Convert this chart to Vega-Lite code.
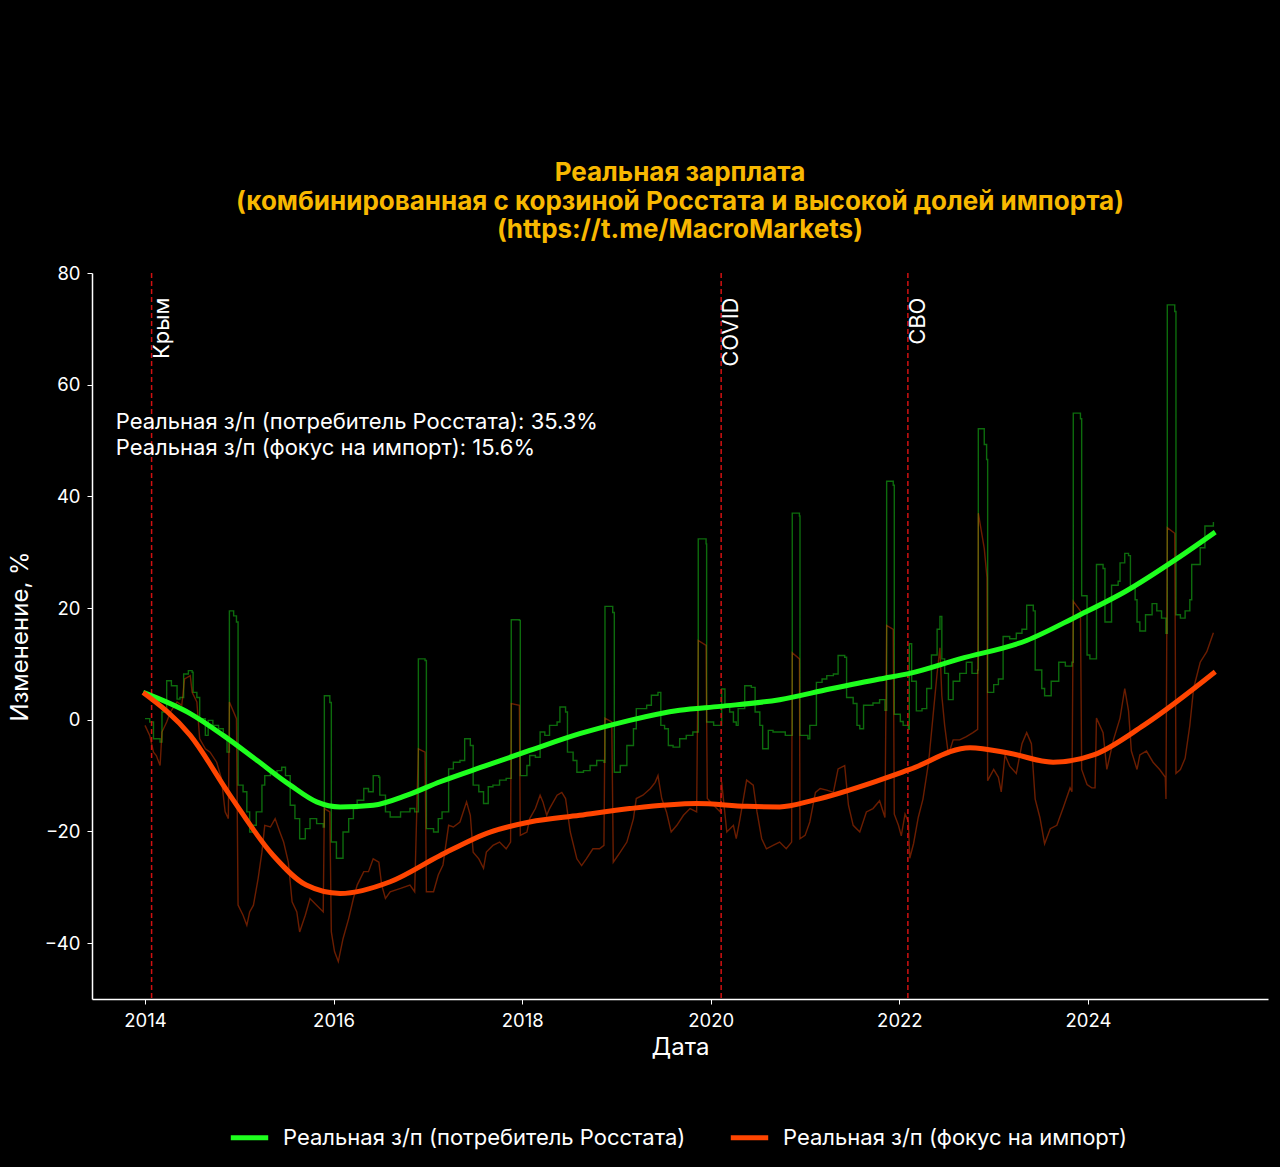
{
  "$schema": "https://vega.github.io/schema/vega-lite/v6.json",
  "width": 1176,
  "height": 726,
  "autosize": {"type": "none"},
  "padding": {"left": 92, "top": 273, "right": 12, "bottom": 168},
  "background": "#000000",
  "title": {
    "text": ["Реальная зарплата", "(комбинированная с корзиной Росстата и высокой долей импорта)", "(https://t.me/MacroMarkets)"],
    "color": "#F8B800",
    "font": "Inter",
    "fontSize": 26,
    "fontWeight": "bold",
    "lineHeight": 28.5,
    "anchor": "middle",
    "offset": 21
  },
  "datasets": {
    "raw": [
      {"year": 2014.00, "value": 0.2, "series": "cpi"}, {"year": 2014.05, "value": -0.4, "series": "cpi"}, {"year": 2014.09, "value": -3.4, "series": "cpi"}, {"year": 2014.16, "value": -4.0, "series": "cpi"}, {"year": 2014.18, "value": 1.4, "series": "cpi"}, {"year": 2014.23, "value": 7.0, "series": "cpi"}, {"year": 2014.28, "value": 6.1, "series": "cpi"}, {"year": 2014.34, "value": 3.7, "series": "cpi"}, {"year": 2014.37, "value": 4.0, "series": "cpi"}, {"year": 2014.41, "value": 8.2, "series": "cpi"}, {"year": 2014.46, "value": 8.8, "series": "cpi"}, {"year": 2014.50, "value": 8.5, "series": "cpi"}, {"year": 2014.51, "value": 4.9, "series": "cpi"}, {"year": 2014.55, "value": 4.0, "series": "cpi"}, {"year": 2014.58, "value": 0.2, "series": "cpi"}, {"year": 2014.64, "value": -2.8, "series": "cpi"}, {"year": 2014.67, "value": -0.1, "series": "cpi"}, {"year": 2014.72, "value": -1.0, "series": "cpi"}, {"year": 2014.78, "value": -1.6, "series": "cpi"}, {"year": 2014.83, "value": -3.1, "series": "cpi"}, {"year": 2014.87, "value": -5.8, "series": "cpi"}, {"year": 2014.895, "value": 19.5, "series": "cpi"}, {"year": 2014.94, "value": 18.6, "series": "cpi"}, {"year": 2014.97, "value": 17.5, "series": "cpi"}, {"year": 2014.987, "value": -11.7, "series": "cpi"}, {"year": 2015.04, "value": -12.9, "series": "cpi"}, {"year": 2015.08, "value": -16.5, "series": "cpi"}, {"year": 2015.11, "value": -20.1, "series": "cpi"}, {"year": 2015.15, "value": -18.9, "series": "cpi"}, {"year": 2015.18, "value": -16.5, "series": "cpi"}, {"year": 2015.24, "value": -11.7, "series": "cpi"}, {"year": 2015.27, "value": -10.0, "series": "cpi"}, {"year": 2015.33, "value": -9.4, "series": "cpi"}, {"year": 2015.40, "value": -9.1, "series": "cpi"}, {"year": 2015.45, "value": -8.5, "series": "cpi"}, {"year": 2015.49, "value": -10.0, "series": "cpi"}, {"year": 2015.54, "value": -15.3, "series": "cpi"}, {"year": 2015.59, "value": -17.7, "series": "cpi"}, {"year": 2015.64, "value": -21.3, "series": "cpi"}, {"year": 2015.70, "value": -19.5, "series": "cpi"}, {"year": 2015.75, "value": -17.7, "series": "cpi"}, {"year": 2015.82, "value": -18.6, "series": "cpi"}, {"year": 2015.89, "value": -19.2, "series": "cpi"}, {"year": 2015.902, "value": 4.3, "series": "cpi"}, {"year": 2015.96, "value": 3.1, "series": "cpi"}, {"year": 2015.976, "value": -21.9, "series": "cpi"}, {"year": 2016.03, "value": -24.8, "series": "cpi"}, {"year": 2016.10, "value": -20.1, "series": "cpi"}, {"year": 2016.16, "value": -17.7, "series": "cpi"}, {"year": 2016.21, "value": -15.9, "series": "cpi"}, {"year": 2016.25, "value": -14.4, "series": "cpi"}, {"year": 2016.32, "value": -12.3, "series": "cpi"}, {"year": 2016.37, "value": -12.9, "series": "cpi"}, {"year": 2016.42, "value": -10.0, "series": "cpi"}, {"year": 2016.48, "value": -10.3, "series": "cpi"}, {"year": 2016.49, "value": -13.5, "series": "cpi"}, {"year": 2016.55, "value": -16.5, "series": "cpi"}, {"year": 2016.60, "value": -17.4, "series": "cpi"}, {"year": 2016.71, "value": -16.5, "series": "cpi"}, {"year": 2016.81, "value": -15.9, "series": "cpi"}, {"year": 2016.86, "value": -16.5, "series": "cpi"}, {"year": 2016.899, "value": 10.9, "series": "cpi"}, {"year": 2016.97, "value": 10.6, "series": "cpi"}, {"year": 2016.984, "value": -19.5, "series": "cpi"}, {"year": 2017.06, "value": -20.1, "series": "cpi"}, {"year": 2017.11, "value": -17.7, "series": "cpi"}, {"year": 2017.15, "value": -16.5, "series": "cpi"}, {"year": 2017.22, "value": -8.8, "series": "cpi"}, {"year": 2017.27, "value": -7.6, "series": "cpi"}, {"year": 2017.34, "value": -7.3, "series": "cpi"}, {"year": 2017.39, "value": -3.4, "series": "cpi"}, {"year": 2017.45, "value": -4.6, "series": "cpi"}, {"year": 2017.48, "value": -11.7, "series": "cpi"}, {"year": 2017.54, "value": -12.9, "series": "cpi"}, {"year": 2017.59, "value": -15.0, "series": "cpi"}, {"year": 2017.64, "value": -12.0, "series": "cpi"}, {"year": 2017.69, "value": -11.7, "series": "cpi"}, {"year": 2017.76, "value": -10.8, "series": "cpi"}, {"year": 2017.83, "value": -10.5, "series": "cpi"}, {"year": 2017.884, "value": 17.9, "series": "cpi"}, {"year": 2017.97, "value": 17.8, "series": "cpi"}, {"year": 2017.98, "value": -10.0, "series": "cpi"}, {"year": 2018.05, "value": -8.2, "series": "cpi"}, {"year": 2018.08, "value": -6.4, "series": "cpi"}, {"year": 2018.14, "value": -6.7, "series": "cpi"}, {"year": 2018.19, "value": -2.2, "series": "cpi"}, {"year": 2018.24, "value": -2.8, "series": "cpi"}, {"year": 2018.29, "value": -1.0, "series": "cpi"}, {"year": 2018.37, "value": -0.4, "series": "cpi"}, {"year": 2018.40, "value": 2.3, "series": "cpi"}, {"year": 2018.46, "value": 1.4, "series": "cpi"}, {"year": 2018.48, "value": -5.8, "series": "cpi"}, {"year": 2018.54, "value": -7.3, "series": "cpi"}, {"year": 2018.58, "value": -9.4, "series": "cpi"}, {"year": 2018.65, "value": -9.1, "series": "cpi"}, {"year": 2018.72, "value": -8.2, "series": "cpi"}, {"year": 2018.79, "value": -7.3, "series": "cpi"}, {"year": 2018.867, "value": -7.6, "series": "cpi"}, {"year": 2018.878, "value": 20.3, "series": "cpi"}, {"year": 2018.96, "value": 19.2, "series": "cpi"}, {"year": 2018.977, "value": -9.4, "series": "cpi"}, {"year": 2019.04, "value": -8.2, "series": "cpi"}, {"year": 2019.11, "value": -4.6, "series": "cpi"}, {"year": 2019.18, "value": -1.6, "series": "cpi"}, {"year": 2019.21, "value": 2.0, "series": "cpi"}, {"year": 2019.28, "value": 2.0, "series": "cpi"}, {"year": 2019.32, "value": 2.6, "series": "cpi"}, {"year": 2019.37, "value": 4.4, "series": "cpi"}, {"year": 2019.44, "value": 4.9, "series": "cpi"}, {"year": 2019.47, "value": -1.0, "series": "cpi"}, {"year": 2019.51, "value": -1.6, "series": "cpi"}, {"year": 2019.55, "value": -4.6, "series": "cpi"}, {"year": 2019.60, "value": -4.9, "series": "cpi"}, {"year": 2019.67, "value": -3.4, "series": "cpi"}, {"year": 2019.74, "value": -2.8, "series": "cpi"}, {"year": 2019.81, "value": -2.2, "series": "cpi"}, {"year": 2019.86, "value": -2.2, "series": "cpi"}, {"year": 2019.867, "value": 32.4, "series": "cpi"}, {"year": 2019.95, "value": 31.5, "series": "cpi"}, {"year": 2019.956, "value": -0.4, "series": "cpi"}, {"year": 2020.03, "value": -1.0, "series": "cpi"}, {"year": 2020.10, "value": -1.0, "series": "cpi"}, {"year": 2020.115, "value": 5.5, "series": "cpi"}, {"year": 2020.15, "value": 2.6, "series": "cpi"}, {"year": 2020.20, "value": 1.4, "series": "cpi"}, {"year": 2020.24, "value": -0.4, "series": "cpi"}, {"year": 2020.27, "value": -1.0, "series": "cpi"}, {"year": 2020.29, "value": 2.0, "series": "cpi"}, {"year": 2020.36, "value": 6.1, "series": "cpi"}, {"year": 2020.43, "value": 5.8, "series": "cpi"}, {"year": 2020.47, "value": 1.4, "series": "cpi"}, {"year": 2020.52, "value": -1.0, "series": "cpi"}, {"year": 2020.55, "value": -5.2, "series": "cpi"}, {"year": 2020.61, "value": -1.9, "series": "cpi"}, {"year": 2020.66, "value": -2.2, "series": "cpi"}, {"year": 2020.73, "value": -2.2, "series": "cpi"}, {"year": 2020.79, "value": -2.8, "series": "cpi"}, {"year": 2020.857, "value": -2.8, "series": "cpi"}, {"year": 2020.864, "value": 37.0, "series": "cpi"}, {"year": 2020.94, "value": 36.5, "series": "cpi"}, {"year": 2020.946, "value": -2.8, "series": "cpi"}, {"year": 2021.03, "value": -3.4, "series": "cpi"}, {"year": 2021.05, "value": -1.0, "series": "cpi"}, {"year": 2021.12, "value": 6.7, "series": "cpi"}, {"year": 2021.18, "value": 7.3, "series": "cpi"}, {"year": 2021.23, "value": 7.9, "series": "cpi"}, {"year": 2021.30, "value": 8.2, "series": "cpi"}, {"year": 2021.35, "value": 11.5, "series": "cpi"}, {"year": 2021.42, "value": 11.2, "series": "cpi"}, {"year": 2021.44, "value": 4.0, "series": "cpi"}, {"year": 2021.51, "value": 2.9, "series": "cpi"}, {"year": 2021.55, "value": -1.0, "series": "cpi"}, {"year": 2021.58, "value": -1.6, "series": "cpi"}, {"year": 2021.62, "value": 2.6, "series": "cpi"}, {"year": 2021.72, "value": 3.0, "series": "cpi"}, {"year": 2021.79, "value": 3.6, "series": "cpi"}, {"year": 2021.847, "value": 1.7, "series": "cpi"}, {"year": 2021.865, "value": 42.7, "series": "cpi"}, {"year": 2021.935, "value": 42.0, "series": "cpi"}, {"year": 2021.946, "value": 1.0, "series": "cpi"}, {"year": 2022.01, "value": -0.3, "series": "cpi"}, {"year": 2022.04, "value": -1.0, "series": "cpi"}, {"year": 2022.095, "value": -1.7, "series": "cpi"}, {"year": 2022.105, "value": 13.6, "series": "cpi"}, {"year": 2022.13, "value": 6.9, "series": "cpi"}, {"year": 2022.18, "value": 1.6, "series": "cpi"}, {"year": 2022.24, "value": 2.0, "series": "cpi"}, {"year": 2022.29, "value": 5.6, "series": "cpi"}, {"year": 2022.34, "value": 11.6, "series": "cpi"}, {"year": 2022.40, "value": 16.2, "series": "cpi"}, {"year": 2022.43, "value": 18.5, "series": "cpi"}, {"year": 2022.45, "value": 10.9, "series": "cpi"}, {"year": 2022.48, "value": 8.3, "series": "cpi"}, {"year": 2022.52, "value": 3.6, "series": "cpi"}, {"year": 2022.57, "value": 6.9, "series": "cpi"}, {"year": 2022.64, "value": 8.3, "series": "cpi"}, {"year": 2022.71, "value": 10.3, "series": "cpi"}, {"year": 2022.77, "value": 8.3, "series": "cpi"}, {"year": 2022.83, "value": 8.9, "series": "cpi"}, {"year": 2022.837, "value": 52.1, "series": "cpi"}, {"year": 2022.90, "value": 49.3, "series": "cpi"}, {"year": 2022.925, "value": 46.6, "series": "cpi"}, {"year": 2022.936, "value": 4.9, "series": "cpi"}, {"year": 2023.00, "value": 6.3, "series": "cpi"}, {"year": 2023.05, "value": 7.3, "series": "cpi"}, {"year": 2023.10, "value": 14.9, "series": "cpi"}, {"year": 2023.17, "value": 14.5, "series": "cpi"}, {"year": 2023.24, "value": 15.5, "series": "cpi"}, {"year": 2023.30, "value": 16.2, "series": "cpi"}, {"year": 2023.35, "value": 20.5, "series": "cpi"}, {"year": 2023.42, "value": 19.5, "series": "cpi"}, {"year": 2023.44, "value": 8.9, "series": "cpi"}, {"year": 2023.51, "value": 5.6, "series": "cpi"}, {"year": 2023.54, "value": 4.3, "series": "cpi"}, {"year": 2023.61, "value": 6.9, "series": "cpi"}, {"year": 2023.69, "value": 10.3, "series": "cpi"}, {"year": 2023.76, "value": 9.6, "series": "cpi"}, {"year": 2023.83, "value": 10.3, "series": "cpi"}, {"year": 2023.844, "value": 54.9, "series": "cpi"}, {"year": 2023.92, "value": 53.9, "series": "cpi"}, {"year": 2023.933, "value": 22.2, "series": "cpi"}, {"year": 2023.99, "value": 11.6, "series": "cpi"}, {"year": 2024.02, "value": 10.9, "series": "cpi"}, {"year": 2024.075, "value": 10.9, "series": "cpi"}, {"year": 2024.09, "value": 27.8, "series": "cpi"}, {"year": 2024.16, "value": 27.1, "series": "cpi"}, {"year": 2024.18, "value": 17.5, "series": "cpi"}, {"year": 2024.25, "value": 24.1, "series": "cpi"}, {"year": 2024.32, "value": 24.8, "series": "cpi"}, {"year": 2024.34, "value": 28.1, "series": "cpi"}, {"year": 2024.39, "value": 29.8, "series": "cpi"}, {"year": 2024.43, "value": 29.4, "series": "cpi"}, {"year": 2024.45, "value": 23.5, "series": "cpi"}, {"year": 2024.50, "value": 21.5, "series": "cpi"}, {"year": 2024.52, "value": 17.5, "series": "cpi"}, {"year": 2024.55, "value": 15.9, "series": "cpi"}, {"year": 2024.61, "value": 18.8, "series": "cpi"}, {"year": 2024.68, "value": 20.8, "series": "cpi"}, {"year": 2024.73, "value": 19.5, "series": "cpi"}, {"year": 2024.78, "value": 18.2, "series": "cpi"}, {"year": 2024.827, "value": 15.5, "series": "cpi"}, {"year": 2024.841, "value": 74.3, "series": "cpi"}, {"year": 2024.92, "value": 73.1, "series": "cpi"}, {"year": 2024.933, "value": 18.8, "series": "cpi"}, {"year": 2024.98, "value": 18.2, "series": "cpi"}, {"year": 2025.03, "value": 19.5, "series": "cpi"}, {"year": 2025.08, "value": 21.5, "series": "cpi"}, {"year": 2025.10, "value": 27.8, "series": "cpi"}, {"year": 2025.19, "value": 30.8, "series": "cpi"}, {"year": 2025.24, "value": 34.7, "series": "cpi"}, {"year": 2025.33, "value": 35.4, "series": "cpi"},
      {"year": 2014.00, "value": -1.0, "series": "imp"}, {"year": 2014.05, "value": -2.8, "series": "imp"}, {"year": 2014.09, "value": -5.8, "series": "imp"}, {"year": 2014.12, "value": -6.4, "series": "imp"}, {"year": 2014.16, "value": -8.2, "series": "imp"}, {"year": 2014.18, "value": -2.2, "series": "imp"}, {"year": 2014.23, "value": -0.4, "series": "imp"}, {"year": 2014.27, "value": 1.4, "series": "imp"}, {"year": 2014.34, "value": 3.2, "series": "imp"}, {"year": 2014.39, "value": 2.6, "series": "imp"}, {"year": 2014.42, "value": 7.3, "series": "imp"}, {"year": 2014.48, "value": 7.9, "series": "imp"}, {"year": 2014.50, "value": 4.9, "series": "imp"}, {"year": 2014.55, "value": 3.2, "series": "imp"}, {"year": 2014.58, "value": -3.4, "series": "imp"}, {"year": 2014.64, "value": -5.2, "series": "imp"}, {"year": 2014.69, "value": -5.8, "series": "imp"}, {"year": 2014.76, "value": -7.6, "series": "imp"}, {"year": 2014.81, "value": -10.5, "series": "imp"}, {"year": 2014.85, "value": -16.5, "series": "imp"}, {"year": 2014.884, "value": -17.7, "series": "imp"}, {"year": 2014.895, "value": 3.2, "series": "imp"}, {"year": 2014.97, "value": 0.2, "series": "imp"}, {"year": 2014.987, "value": -33.2, "series": "imp"}, {"year": 2015.04, "value": -35.0, "series": "imp"}, {"year": 2015.08, "value": -36.8, "series": "imp"}, {"year": 2015.11, "value": -34.4, "series": "imp"}, {"year": 2015.15, "value": -33.2, "series": "imp"}, {"year": 2015.20, "value": -28.4, "series": "imp"}, {"year": 2015.24, "value": -23.7, "series": "imp"}, {"year": 2015.27, "value": -18.9, "series": "imp"}, {"year": 2015.33, "value": -19.2, "series": "imp"}, {"year": 2015.38, "value": -17.7, "series": "imp"}, {"year": 2015.43, "value": -20.1, "series": "imp"}, {"year": 2015.47, "value": -21.9, "series": "imp"}, {"year": 2015.52, "value": -25.5, "series": "imp"}, {"year": 2015.56, "value": -32.6, "series": "imp"}, {"year": 2015.61, "value": -34.4, "series": "imp"}, {"year": 2015.64, "value": -38.0, "series": "imp"}, {"year": 2015.70, "value": -35.0, "series": "imp"}, {"year": 2015.75, "value": -32.0, "series": "imp"}, {"year": 2015.82, "value": -33.2, "series": "imp"}, {"year": 2015.89, "value": -34.4, "series": "imp"}, {"year": 2015.902, "value": -15.9, "series": "imp"}, {"year": 2015.96, "value": -16.5, "series": "imp"}, {"year": 2015.976, "value": -38.0, "series": "imp"}, {"year": 2016.01, "value": -41.5, "series": "imp"}, {"year": 2016.05, "value": -43.3, "series": "imp"}, {"year": 2016.10, "value": -39.2, "series": "imp"}, {"year": 2016.16, "value": -35.6, "series": "imp"}, {"year": 2016.21, "value": -32.0, "series": "imp"}, {"year": 2016.25, "value": -29.6, "series": "imp"}, {"year": 2016.32, "value": -27.2, "series": "imp"}, {"year": 2016.37, "value": -27.2, "series": "imp"}, {"year": 2016.42, "value": -24.9, "series": "imp"}, {"year": 2016.48, "value": -25.5, "series": "imp"}, {"year": 2016.51, "value": -29.6, "series": "imp"}, {"year": 2016.55, "value": -32.0, "series": "imp"}, {"year": 2016.60, "value": -30.8, "series": "imp"}, {"year": 2016.71, "value": -30.2, "series": "imp"}, {"year": 2016.81, "value": -29.6, "series": "imp"}, {"year": 2016.86, "value": -30.8, "series": "imp"}, {"year": 2016.899, "value": -5.2, "series": "imp"}, {"year": 2016.97, "value": -5.8, "series": "imp"}, {"year": 2016.984, "value": -30.8, "series": "imp"}, {"year": 2017.06, "value": -30.8, "series": "imp"}, {"year": 2017.11, "value": -27.8, "series": "imp"}, {"year": 2017.16, "value": -26.0, "series": "imp"}, {"year": 2017.22, "value": -18.9, "series": "imp"}, {"year": 2017.27, "value": -19.2, "series": "imp"}, {"year": 2017.34, "value": -18.3, "series": "imp"}, {"year": 2017.41, "value": -14.7, "series": "imp"}, {"year": 2017.45, "value": -17.1, "series": "imp"}, {"year": 2017.48, "value": -23.7, "series": "imp"}, {"year": 2017.54, "value": -24.9, "series": "imp"}, {"year": 2017.59, "value": -26.6, "series": "imp"}, {"year": 2017.62, "value": -23.7, "series": "imp"}, {"year": 2017.69, "value": -22.5, "series": "imp"}, {"year": 2017.76, "value": -21.9, "series": "imp"}, {"year": 2017.83, "value": -23.1, "series": "imp"}, {"year": 2017.877, "value": -21.9, "series": "imp"}, {"year": 2017.884, "value": 2.9, "series": "imp"}, {"year": 2017.97, "value": 2.6, "series": "imp"}, {"year": 2017.98, "value": -20.7, "series": "imp"}, {"year": 2018.05, "value": -20.1, "series": "imp"}, {"year": 2018.08, "value": -17.7, "series": "imp"}, {"year": 2018.14, "value": -15.9, "series": "imp"}, {"year": 2018.19, "value": -13.5, "series": "imp"}, {"year": 2018.22, "value": -14.7, "series": "imp"}, {"year": 2018.26, "value": -17.1, "series": "imp"}, {"year": 2018.29, "value": -15.9, "series": "imp"}, {"year": 2018.37, "value": -13.5, "series": "imp"}, {"year": 2018.42, "value": -13.0, "series": "imp"}, {"year": 2018.46, "value": -14.1, "series": "imp"}, {"year": 2018.51, "value": -20.1, "series": "imp"}, {"year": 2018.58, "value": -24.9, "series": "imp"}, {"year": 2018.63, "value": -26.1, "series": "imp"}, {"year": 2018.68, "value": -24.9, "series": "imp"}, {"year": 2018.75, "value": -23.1, "series": "imp"}, {"year": 2018.82, "value": -23.1, "series": "imp"}, {"year": 2018.867, "value": -22.5, "series": "imp"}, {"year": 2018.878, "value": 0.3, "series": "imp"}, {"year": 2018.95, "value": -0.4, "series": "imp"}, {"year": 2018.966, "value": -25.5, "series": "imp"}, {"year": 2019.04, "value": -23.7, "series": "imp"}, {"year": 2019.11, "value": -21.9, "series": "imp"}, {"year": 2019.18, "value": -17.7, "series": "imp"}, {"year": 2019.21, "value": -14.1, "series": "imp"}, {"year": 2019.28, "value": -13.5, "series": "imp"}, {"year": 2019.36, "value": -12.3, "series": "imp"}, {"year": 2019.41, "value": -11.2, "series": "imp"}, {"year": 2019.44, "value": -10.0, "series": "imp"}, {"year": 2019.48, "value": -14.1, "series": "imp"}, {"year": 2019.53, "value": -16.5, "series": "imp"}, {"year": 2019.58, "value": -20.1, "series": "imp"}, {"year": 2019.64, "value": -18.9, "series": "imp"}, {"year": 2019.71, "value": -17.1, "series": "imp"}, {"year": 2019.78, "value": -15.9, "series": "imp"}, {"year": 2019.85, "value": -16.5, "series": "imp"}, {"year": 2019.867, "value": 14.2, "series": "imp"}, {"year": 2019.95, "value": 13.3, "series": "imp"}, {"year": 2019.963, "value": -14.1, "series": "imp"}, {"year": 2020.03, "value": -15.3, "series": "imp"}, {"year": 2020.10, "value": -16.5, "series": "imp"}, {"year": 2020.115, "value": -11.1, "series": "imp"}, {"year": 2020.17, "value": -20.1, "series": "imp"}, {"year": 2020.24, "value": -18.9, "series": "imp"}, {"year": 2020.27, "value": -21.3, "series": "imp"}, {"year": 2020.31, "value": -17.7, "series": "imp"}, {"year": 2020.38, "value": -10.8, "series": "imp"}, {"year": 2020.45, "value": -11.7, "series": "imp"}, {"year": 2020.49, "value": -16.5, "series": "imp"}, {"year": 2020.54, "value": -21.3, "series": "imp"}, {"year": 2020.59, "value": -23.1, "series": "imp"}, {"year": 2020.66, "value": -22.5, "series": "imp"}, {"year": 2020.73, "value": -21.9, "series": "imp"}, {"year": 2020.80, "value": -23.1, "series": "imp"}, {"year": 2020.857, "value": -21.9, "series": "imp"}, {"year": 2020.864, "value": 12.0, "series": "imp"}, {"year": 2020.94, "value": 10.9, "series": "imp"}, {"year": 2020.946, "value": -21.3, "series": "imp"}, {"year": 2021.00, "value": -20.7, "series": "imp"}, {"year": 2021.05, "value": -18.3, "series": "imp"}, {"year": 2021.11, "value": -13.0, "series": "imp"}, {"year": 2021.16, "value": -12.3, "series": "imp"}, {"year": 2021.23, "value": -12.6, "series": "imp"}, {"year": 2021.30, "value": -13.0, "series": "imp"}, {"year": 2021.35, "value": -8.8, "series": "imp"}, {"year": 2021.42, "value": -8.2, "series": "imp"}, {"year": 2021.46, "value": -15.3, "series": "imp"}, {"year": 2021.51, "value": -18.9, "series": "imp"}, {"year": 2021.58, "value": -20.1, "series": "imp"}, {"year": 2021.65, "value": -16.5, "series": "imp"}, {"year": 2021.72, "value": -15.9, "series": "imp"}, {"year": 2021.79, "value": -14.5, "series": "imp"}, {"year": 2021.847, "value": -17.5, "series": "imp"}, {"year": 2021.865, "value": 16.9, "series": "imp"}, {"year": 2021.935, "value": 16.2, "series": "imp"}, {"year": 2021.946, "value": -16.9, "series": "imp"}, {"year": 2021.99, "value": -18.9, "series": "imp"}, {"year": 2022.02, "value": -20.8, "series": "imp"}, {"year": 2022.06, "value": -16.9, "series": "imp"}, {"year": 2022.095, "value": -18.2, "series": "imp"}, {"year": 2022.11, "value": -24.8, "series": "imp"}, {"year": 2022.15, "value": -22.2, "series": "imp"}, {"year": 2022.20, "value": -17.5, "series": "imp"}, {"year": 2022.25, "value": -14.2, "series": "imp"}, {"year": 2022.31, "value": -7.6, "series": "imp"}, {"year": 2022.34, "value": -2.3, "series": "imp"}, {"year": 2022.40, "value": 8.3, "series": "imp"}, {"year": 2022.43, "value": 12.9, "series": "imp"}, {"year": 2022.45, "value": 4.3, "series": "imp"}, {"year": 2022.48, "value": -1.0, "series": "imp"}, {"year": 2022.52, "value": -6.3, "series": "imp"}, {"year": 2022.57, "value": -3.6, "series": "imp"}, {"year": 2022.64, "value": -3.6, "series": "imp"}, {"year": 2022.71, "value": -3.0, "series": "imp"}, {"year": 2022.78, "value": -2.3, "series": "imp"}, {"year": 2022.83, "value": -1.7, "series": "imp"}, {"year": 2022.837, "value": 37.0, "series": "imp"}, {"year": 2022.90, "value": 30.7, "series": "imp"}, {"year": 2022.929, "value": 25.5, "series": "imp"}, {"year": 2022.936, "value": -10.9, "series": "imp"}, {"year": 2023.00, "value": -8.9, "series": "imp"}, {"year": 2023.05, "value": -10.3, "series": "imp"}, {"year": 2023.08, "value": -12.9, "series": "imp"}, {"year": 2023.12, "value": -6.3, "series": "imp"}, {"year": 2023.17, "value": -8.3, "series": "imp"}, {"year": 2023.24, "value": -9.6, "series": "imp"}, {"year": 2023.30, "value": -4.3, "series": "imp"}, {"year": 2023.35, "value": -2.3, "series": "imp"}, {"year": 2023.40, "value": -4.3, "series": "imp"}, {"year": 2023.44, "value": -14.2, "series": "imp"}, {"year": 2023.49, "value": -17.5, "series": "imp"}, {"year": 2023.54, "value": -22.2, "series": "imp"}, {"year": 2023.60, "value": -19.5, "series": "imp"}, {"year": 2023.67, "value": -18.9, "series": "imp"}, {"year": 2023.74, "value": -15.6, "series": "imp"}, {"year": 2023.81, "value": -12.2, "series": "imp"}, {"year": 2023.83, "value": -12.9, "series": "imp"}, {"year": 2023.844, "value": 21.2, "series": "imp"}, {"year": 2023.92, "value": 19.5, "series": "imp"}, {"year": 2023.933, "value": -8.9, "series": "imp"}, {"year": 2023.99, "value": -11.6, "series": "imp"}, {"year": 2024.04, "value": -12.2, "series": "imp"}, {"year": 2024.075, "value": -12.2, "series": "imp"}, {"year": 2024.09, "value": 0.3, "series": "imp"}, {"year": 2024.16, "value": -2.3, "series": "imp"}, {"year": 2024.20, "value": -8.9, "series": "imp"}, {"year": 2024.27, "value": -3.6, "series": "imp"}, {"year": 2024.34, "value": 0.3, "series": "imp"}, {"year": 2024.39, "value": 5.6, "series": "imp"}, {"year": 2024.43, "value": 1.6, "series": "imp"}, {"year": 2024.46, "value": -5.6, "series": "imp"}, {"year": 2024.52, "value": -8.9, "series": "imp"}, {"year": 2024.55, "value": -6.3, "series": "imp"}, {"year": 2024.62, "value": -5.6, "series": "imp"}, {"year": 2024.69, "value": -7.6, "series": "imp"}, {"year": 2024.76, "value": -8.9, "series": "imp"}, {"year": 2024.82, "value": -10.3, "series": "imp"}, {"year": 2024.827, "value": -14.2, "series": "imp"}, {"year": 2024.841, "value": 34.4, "series": "imp"}, {"year": 2024.92, "value": 33.4, "series": "imp"}, {"year": 2024.933, "value": -9.6, "series": "imp"}, {"year": 2024.98, "value": -8.9, "series": "imp"}, {"year": 2025.03, "value": -6.9, "series": "imp"}, {"year": 2025.08, "value": -1.0, "series": "imp"}, {"year": 2025.12, "value": 5.6, "series": "imp"}, {"year": 2025.19, "value": 10.3, "series": "imp"}, {"year": 2025.26, "value": 12.2, "series": "imp"}, {"year": 2025.33, "value": 15.6, "series": "imp"}
    ],
    "smooth": [
      {"year": 2013.98, "value": 4.9, "series": "cpi"}, {"year": 2014.48, "value": 1.1, "series": "cpi"}, {"year": 2014.83, "value": -2.8, "series": "cpi"}, {"year": 2015.19, "value": -7.3, "series": "cpi"}, {"year": 2015.54, "value": -11.7, "series": "cpi"}, {"year": 2015.82, "value": -14.7, "series": "cpi"}, {"year": 2016.07, "value": -15.6, "series": "cpi"}, {"year": 2016.42, "value": -15.3, "series": "cpi"}, {"year": 2016.78, "value": -13.5, "series": "cpi"}, {"year": 2017.13, "value": -11.1, "series": "cpi"}, {"year": 2017.6, "value": -8.3, "series": "cpi"}, {"year": 2018.08, "value": -5.5, "series": "cpi"}, {"year": 2018.61, "value": -2.5, "series": "cpi"}, {"year": 2019.14, "value": -0.1, "series": "cpi"}, {"year": 2019.67, "value": 1.7, "series": "cpi"}, {"year": 2020.10, "value": 2.4, "series": "cpi"}, {"year": 2020.73, "value": 3.6, "series": "cpi"}, {"year": 2021.26, "value": 5.5, "series": "cpi"}, {"year": 2021.79, "value": 7.3, "series": "cpi"}, {"year": 2022.11, "value": 8.3, "series": "cpi"}, {"year": 2022.64, "value": 10.9, "series": "cpi"}, {"year": 2023.35, "value": 14.2, "series": "cpi"}, {"year": 2023.88, "value": 18.5, "series": "cpi"}, {"year": 2024.41, "value": 23.1, "series": "cpi"}, {"year": 2024.94, "value": 28.8, "series": "cpi"}, {"year": 2025.35, "value": 33.6, "series": "cpi"},
      {"year": 2013.98, "value": 4.9, "series": "imp"}, {"year": 2014.48, "value": -2.8, "series": "imp"}, {"year": 2014.90, "value": -13.5, "series": "imp"}, {"year": 2015.36, "value": -24.3, "series": "imp"}, {"year": 2015.71, "value": -29.6, "series": "imp"}, {"year": 2016.07, "value": -31.1, "series": "imp"}, {"year": 2016.60, "value": -29.0, "series": "imp"}, {"year": 2017.13, "value": -24.3, "series": "imp"}, {"year": 2017.66, "value": -20.1, "series": "imp"}, {"year": 2018.08, "value": -18.3, "series": "imp"}, {"year": 2018.61, "value": -17.1, "series": "imp"}, {"year": 2019.14, "value": -15.9, "series": "imp"}, {"year": 2019.85, "value": -15.0, "series": "imp"}, {"year": 2020.38, "value": -15.5, "series": "imp"}, {"year": 2020.73, "value": -15.6, "series": "imp"}, {"year": 2021.09, "value": -14.4, "series": "imp"}, {"year": 2021.79, "value": -10.8, "series": "imp"}, {"year": 2022.11, "value": -8.9, "series": "imp"}, {"year": 2022.75, "value": -5.0, "series": "imp"}, {"year": 2023.17, "value": -6.0, "series": "imp"}, {"year": 2023.63, "value": -7.6, "series": "imp"}, {"year": 2024.06, "value": -6.3, "series": "imp"}, {"year": 2024.59, "value": -1.0, "series": "imp"}, {"year": 2025.35, "value": 8.6, "series": "imp"}
    ],
    "events": [
      {"year": 2014.07, "label": "Крым"},
      {"year": 2020.11, "label": "COVID"},
      {"year": 2022.09, "label": "СВО"}
    ],
    "notes": [
      {"year": 2013.69, "value": 53.3, "label": "Реальная з/п (потребитель Росстата): 35.3%"},
      {"year": 2013.69, "value": 48.6, "label": "Реальная з/п (фокус на импорт): 15.6%"}
    ]
  },
  "encoding": {
    "x": {
      "field": "year",
      "type": "quantitative",
      "scale": {"domain": [2013.438, 2025.909], "nice": false, "zero": false},
      "axis": {"values": [2014, 2016, 2018, 2020, 2022, 2024], "format": "d", "title": "Дата", "titlePadding": 6, "labelPadding": 7}
    }
  },
  "layer": [
    {
      "data": {"name": "raw"},
      "transform": [{"filter": "datum.series == 'cpi'"}],
      "mark": {"type": "line", "strokeWidth": 1.4, "opacity": 0.42, "interpolate": "step-after", "clip": true},
      "encoding": {
        "y": {"field": "value", "type": "quantitative"},
        "color": {"field": "series", "type": "nominal", "scale": {"domain": ["cpi", "imp"], "range": ["#1eff1e", "#ff4500"]}, "legend": null}
      }
    },
    {
      "data": {"name": "raw"},
      "transform": [{"filter": "datum.series == 'imp'"}],
      "mark": {"type": "line", "strokeWidth": 1.4, "opacity": 0.42, "clip": true},
      "encoding": {
        "y": {"field": "value", "type": "quantitative"},
        "color": {"field": "series", "type": "nominal", "scale": {"domain": ["cpi", "imp"], "range": ["#1eff1e", "#ff4500"]}, "legend": null}
      }
    },
    {
      "data": {"name": "events"},
      "mark": {"type": "rule", "color": "#d01010", "strokeWidth": 1.5, "strokeDash": [5, 3]},
      "encoding": {}
    },
    {
      "data": {"name": "events"},
      "mark": {"type": "text", "angle": 270, "align": "right", "baseline": "top", "color": "#ffffff", "font": "Inter", "fontSize": 22},
      "encoding": {
        "y": {"datum": 75.6, "type": "quantitative"},
        "text": {"field": "label"}
      }
    },
    {
      "data": {"name": "smooth"},
      "mark": {"type": "line", "strokeWidth": 5, "interpolate": "monotone"},
      "encoding": {
        "y": {
          "field": "value",
          "type": "quantitative",
          "scale": {"domain": [-50, 80], "nice": false},
          "axis": {"values": [-40, -20, 0, 20, 40, 60, 80], "title": "Изменение, %", "titlePadding": 12, "labelPadding": 7}
        },
        "color": {
          "field": "series",
          "type": "nominal",
          "scale": {"domain": ["cpi", "imp"], "range": ["#1eff1e", "#ff4500"]},
          "legend": {
            "orient": "none",
            "legendX": 136,
            "legendY": 843,
            "direction": "horizontal",
            "title": null,
            "symbolType": "stroke",
            "symbolStrokeWidth": 5,
            "symbolSize": 1400,
            "labelFont": "Inter",
            "labelFontSize": 22,
            "labelColor": "#ffffff",
            "labelLimit": 0,
            "labelOffset": 12,
            "columnPadding": 34,
            "labelExpr": "datum.label == 'cpi' ? 'Реальная з/п (потребитель Росстата)' : 'Реальная з/п (фокус на импорт)'"
          }
        }
      }
    },
    {
      "data": {"name": "notes"},
      "mark": {"type": "text", "align": "left", "baseline": "middle", "color": "#ffffff", "font": "Inter", "fontSize": 22},
      "encoding": {
        "y": {"field": "value", "type": "quantitative"},
        "text": {"field": "label"}
      }
    }
  ],
  "resolve": {"scale": {"color": "independent"}},
  "config": {
    "view": {"stroke": null},
    "axis": {
      "grid": false,
      "domainColor": "#ffffff",
      "domainWidth": 1.5,
      "tickColor": "#ffffff",
      "tickSize": 5,
      "labelColor": "#ffffff",
      "labelFont": "Inter",
      "labelFontSize": 18.5,
      "titleColor": "#ffffff",
      "titleFont": "Inter",
      "titleFontSize": 24,
      "titleFontWeight": "normal"
    }
  }
}
